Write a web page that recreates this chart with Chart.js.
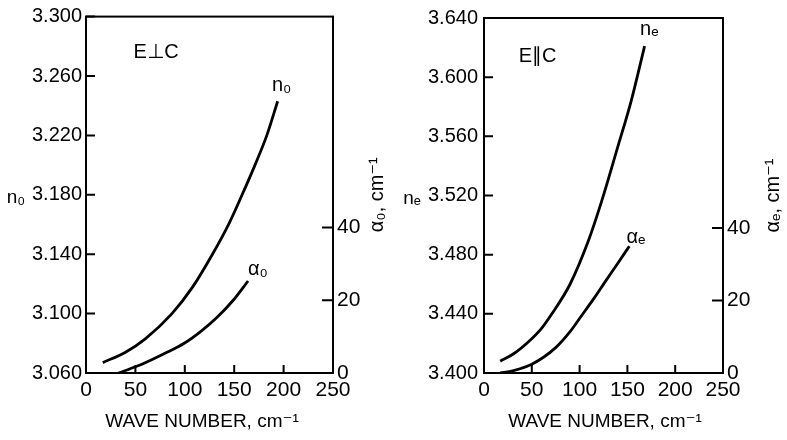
<!DOCTYPE html>
<html>
<head>
<meta charset="utf-8">
<script src="https://cdn.jsdelivr.net/npm/chart.js@4.4.1/dist/chart.umd.min.js"></script>
<style>
  html, body { margin: 0; padding: 0; background: #fff; }
  body { width: 787px; height: 440px; position: relative; overflow: hidden; }
  .panel { position: absolute; top: 0; height: 440px; }
</style>
</head>
<body>
<div class="panel" style="left:0;width:393px"><canvas id="left" width="393" height="440"></canvas></div>
<div class="panel" style="left:393px;width:394px"><canvas id="right" width="394" height="440"></canvas></div>
<script>
// ---- Data ----
// Left panel: E ⊥ C
const waveNoN0 = [17, 40, 60, 87, 108, 128, 145, 158, 171, 183, 194];
const n0Values = [3.067, 3.074, 3.083, 3.100, 3.118, 3.140, 3.161, 3.180, 3.200, 3.220, 3.243];
const waveNoA0 = [33, 50, 66, 82, 99, 116, 133, 149, 164];
const a0Values = [0, 1.7, 3.6, 5.7, 8.1, 11.4, 15.4, 20.0, 25.3];
// Right panel: E ∥ C
const waveNoNe = [17, 31, 48, 60, 71, 90, 109, 123, 140, 154, 168];
const neValues = [3.408, 3.413, 3.422, 3.430, 3.440, 3.460, 3.489, 3.516, 3.553, 3.584, 3.621];
const waveNoAe = [17, 30, 50, 75, 90, 102, 115, 127, 140, 152];
const aeValues = [0, 0.6, 2.4, 7.0, 11.4, 15.8, 20.6, 25.3, 30.3, 35.0];
// Axis ticks
const xTicks = [0, 50, 100, 150, 200, 250];
const alphaTicks = [0, 20, 40];
const n0Range = [3.060, 3.300];
const neRange = [3.400, 3.640];
const alphaRange = [0, 98];

const FONT = "'Liberation Sans', 'DejaVu Sans', sans-serif";

function pts(xs, ys) { return xs.map((x, i) => ({ x: x, y: ys[i] })); }

const panelPlugin = {
  id: 'panelDeco',
  afterDatasetsDraw(chart, args, o) {
    const { ctx, chartArea: a, scales } = chart;
    ctx.save();
    ctx.strokeStyle = '#000';
    ctx.fillStyle = '#000';
    ctx.lineWidth = 2;
    ctx.strokeRect(a.left, a.top, a.right - a.left, a.bottom - a.top);
    ctx.beginPath();
    scales.x.ticks.forEach(t => {
      const px = scales.x.getPixelForValue(t.value);
      ctx.moveTo(px, a.bottom); ctx.lineTo(px, a.bottom - 8);
    });
    scales.y.ticks.forEach(t => {
      const py = scales.y.getPixelForValue(t.value);
      ctx.moveTo(a.left, py); ctx.lineTo(a.left + 9, py);
    });
    scales.y2.ticks.forEach(t => {
      const py = scales.y2.getPixelForValue(t.value);
      ctx.moveTo(a.right, py); ctx.lineTo(a.right - 11, py);
    });
    ctx.stroke();

    ctx.textAlign = 'center';
    ctx.textBaseline = 'middle';
    // in-plot annotations positioned in data coordinates
    o.notes.forEach(n => {
      ctx.font = n.size + 'px ' + FONT;
      const sc = n.axis === 'y2' ? scales.y2 : scales.y;
      ctx.fillText(n.text, scales.x.getPixelForValue(n.x), sc.getPixelForValue(n.y));
    });
    // left axis label (horizontal)
    ctx.font = '19px ' + FONT;
    ctx.fillText(o.leftLabel, o.leftLabelX, (a.top + a.bottom) / 2 + 3);
    // x axis title
    ctx.font = '19px ' + FONT;
    ctx.fillText('WAVE NUMBER, cm⁻¹', o.xTitleX, 422);
    // right axis title (rotated, reading upward)
    ctx.translate(o.rightLabelX, (a.top + a.bottom) / 2);
    ctx.rotate(-Math.PI / 2);
    ctx.font = '20px ' + FONT;
    ctx.fillText(o.rightLabel, 0, 0);
    ctx.restore();
  }
};

function makePanel(id, cfg) {
  new Chart(document.getElementById(id), {
    type: 'line',
    data: {
      datasets: [
        { data: pts(cfg.nx, cfg.ny), yAxisID: 'y', borderColor: '#000', borderWidth: 2.8,
          pointRadius: 0, tension: 0.4, cubicInterpolationMode: 'monotone', fill: false },
        { data: pts(cfg.ax, cfg.ay), yAxisID: 'y2', borderColor: '#000', borderWidth: 2.8,
          pointRadius: 0, tension: 0.4, cubicInterpolationMode: 'monotone', fill: false }
      ]
    },
    options: {
      responsive: false,
      animation: false,
      layout: { padding: { top: 15, left: 0, right: 0, bottom: 0 } },
      plugins: {
        legend: { display: false },
        tooltip: { enabled: false },
        panelDeco: {
          notes: cfg.notes, xTitleX: cfg.xTitleX,
          leftLabel: cfg.leftLabel, leftLabelX: cfg.leftLabelX,
          rightLabel: cfg.rightLabel, rightLabelX: cfg.rightLabelX
        }
      },
      scales: {
        x: {
          type: 'linear', min: 0, max: 250,
          afterBuildTicks: s => { s.ticks = xTicks.map(v => ({ value: v })); },
          ticks: { color: '#000', font: { family: FONT, size: 21 }, padding: 5, maxRotation: 0, autoSkip: false },
          grid: { display: false, drawTicks: false },
          border: { display: false },
          afterFit: s => { s.height = 67; }
        },
        y: {
          type: 'linear', position: 'left', min: cfg.nRange[0], max: cfg.nRange[1],
          ticks: { stepSize: 0.04, color: '#000', font: { family: FONT, size: 20 }, padding: cfg.yPad,
                   callback: v => Number(v).toFixed(3) },
          grid: { display: false, drawTicks: false },
          border: { display: false },
          afterFit: s => { s.width = cfg.leftW; }
        },
        y2: {
          type: 'linear', position: 'right', min: alphaRange[0], max: alphaRange[1],
          afterBuildTicks: s => { s.ticks = alphaTicks.map(v => ({ value: v })); },
          ticks: { color: '#000', font: { family: FONT, size: 21 }, padding: 4, callback: v => String(v) },
          grid: { display: false, drawTicks: false },
          border: { display: false },
          afterFit: s => { s.width = cfg.rightW; }
        }
      }
    },
    plugins: [panelPlugin]
  });
}

makePanel('left', {
  nx: waveNoN0, ny: n0Values, ax: waveNoA0, ay: a0Values,
  nRange: n0Range, leftW: 86, rightW: 60, yPad: 4,
  leftLabel: 'n₀', leftLabelX: 16, xTitleX: 202,
  rightLabel: 'α₀, cm⁻¹', rightLabelX: 377,
  notes: [
    { text: 'E⊥C', x: 71, y: 3.276, axis: 'y', size: 20 },
    { text: 'n₀', x: 198, y: 3.2535, axis: 'y', size: 20 },
    { text: 'α₀', x: 174, y: 28.5, axis: 'y2', size: 20 }
  ]
});

makePanel('right', {
  nx: waveNoNe, ny: neValues, ax: waveNoAe, ay: aeValues,
  nRange: neRange, leftW: 91, rightW: 64, yPad: 6,
  leftLabel: 'nₑ', leftLabelX: 19, xTitleX: 212,
  rightLabel: 'αₑ, cm⁻¹', rightLabelX: 380,
  notes: [
    { text: 'E∥C', x: 56, y: 3.614, axis: 'y', size: 20 },
    { text: 'nₑ', x: 173, y: 3.6325, axis: 'y', size: 20 },
    { text: 'αₑ', x: 159, y: 37.5, axis: 'y2', size: 20 }
  ]
});
</script>
</body>
</html>
